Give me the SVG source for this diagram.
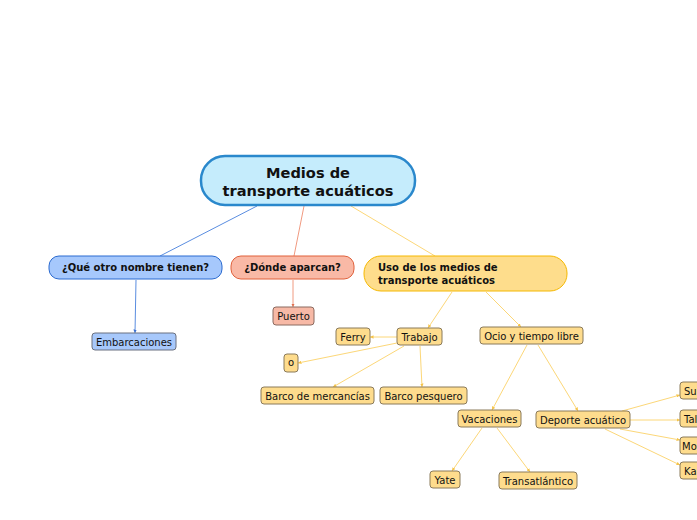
<svg xmlns="http://www.w3.org/2000/svg" width="697" height="520" viewBox="0 0 697 520">
<defs>
<style>
text{font-family:"DejaVu Sans","Noto Sans",sans-serif;fill:#111;}
.t{font-size:10px;text-anchor:middle;}
.s{font-size:10px;text-anchor:start;}
.b{font-size:10px;font-weight:bold;}
.c{text-anchor:middle;}
.r{font-size:14.6px;font-weight:bold;text-anchor:middle;}
.y rect{fill:#fedc8d;stroke:#8a7a5a;stroke-width:1;}
.bl{fill:#a7c8fb;stroke:#6a7080;stroke-width:1;}
.sa{fill:#f7b9a6;stroke:#8a6a60;stroke-width:1;}
#connectors line{stroke-width:1;fill:none;}
.cy{stroke:#fcd778;}
.cb{stroke:#5a8de0;}
.cs{stroke:#f09a80;}
</style>
<marker id="ay" viewBox="0 0 6 6" refX="6" refY="3" markerWidth="3.5" markerHeight="3.5" orient="auto"><path d="M0,0L6,3L0,6z" fill="#f5c44a"/></marker>
<marker id="ab" viewBox="0 0 6 6" refX="6" refY="3" markerWidth="3.5" markerHeight="3.5" orient="auto"><path d="M0,0L6,3L0,6z" fill="#3a70d0"/></marker>
<marker id="as" viewBox="0 0 6 6" refX="6" refY="3" markerWidth="3.5" markerHeight="3.5" orient="auto"><path d="M0,0L6,3L0,6z" fill="#e07050"/></marker>
</defs>
<rect width="697" height="520" fill="#fff"/>
<g id="connectors">
<line class="cb" x1="257" y1="206" x2="160" y2="256"/>
<line class="cs" x1="304" y1="206" x2="294" y2="256"/>
<line class="cy" x1="351" y1="206" x2="435" y2="256"/>
<line class="cb" x1="136" y1="280" x2="135" y2="333" marker-end="url(#ab)"/>
<line class="cs" x1="293" y1="280" x2="293" y2="307" marker-end="url(#as)"/>
<line class="cy" x1="452" y1="292" x2="428" y2="328" marker-end="url(#ay)"/>
<line class="cy" x1="486" y1="292" x2="521" y2="327" marker-end="url(#ay)"/>
<line class="cy" x1="397" y1="337" x2="370" y2="337" marker-end="url(#ay)"/>
<line class="cy" x1="397" y1="343" x2="298" y2="363" marker-end="url(#ay)"/>
<line class="cy" x1="404" y1="346" x2="333" y2="387" marker-end="url(#ay)"/>
<line class="cy" x1="420" y1="346" x2="422" y2="387" marker-end="url(#ay)"/>
<line class="cy" x1="527" y1="345" x2="492" y2="410" marker-end="url(#ay)"/>
<line class="cy" x1="538" y1="345" x2="578" y2="411" marker-end="url(#ay)"/>
<line class="cy" x1="482" y1="428" x2="452" y2="471" marker-end="url(#ay)"/>
<line class="cy" x1="497" y1="428" x2="530" y2="472" marker-end="url(#ay)"/>
<line class="cy" x1="622" y1="411" x2="680" y2="395" marker-end="url(#ay)"/>
<line class="cy" x1="630" y1="420" x2="680" y2="420" marker-end="url(#ay)"/>
<line class="cy" x1="620" y1="429" x2="680" y2="440" marker-end="url(#ay)"/>
<line class="cy" x1="605" y1="429" x2="680" y2="465" marker-end="url(#ay)"/>
</g>
<g id="root">
<rect x="201" y="156" width="214" height="49" rx="24" fill="#c5ecfc" stroke="#2a88cc" stroke-width="2.5"/>
<text class="r" x="308" y="178">Medios de</text>
<text class="r" x="308" y="196">transporte acuáticos</text>
</g>
<g id="n-que">
<rect x="49" y="256" width="173" height="23" rx="10" fill="#a6c8fc" stroke="#2a6ad0" stroke-width="1"/>
<text class="b c" x="135.5" y="271">¿Qué otro nombre tienen?</text>
</g>
<g id="n-donde">
<rect x="231" y="256" width="123" height="23" rx="10" fill="#f9b9a6" stroke="#e0603a" stroke-width="1"/>
<text class="b c" x="292.5" y="271">¿Dónde aparcan?</text>
</g>
<g id="n-uso">
<rect x="364" y="256" width="203" height="35" rx="17" fill="#fedd8c" stroke="#f5b800" stroke-width="1"/>
<text class="b" x="378" y="271">Uso de los medios de</text>
<text class="b" x="378" y="284">transporte acuáticos</text>
</g>
<g id="n-embarcaciones">
<rect class="bl" x="92" y="333" width="84" height="17" rx="3"/>
<text class="t" x="134" y="345.5">Embarcaciones</text>
</g>
<g id="n-puerto">
<rect class="sa" x="273" y="307" width="41" height="18" rx="3"/>
<text class="t" x="293.5" y="320">Puerto</text>
</g>
<g id="n-ferry" class="y">
<rect x="336" y="328" width="34" height="17" rx="3"/>
<text class="t" x="353" y="340.5">Ferry</text>
</g>
<g id="n-trabajo" class="y">
<rect x="397" y="328" width="45" height="17" rx="3"/>
<text class="t" x="419.5" y="340.5">Trabajo</text>
</g>
<g id="n-ocio" class="y">
<rect x="480" y="327" width="103" height="17" rx="3"/>
<text class="t" x="531.5" y="339.5">Ocio y tiempo libre</text>
</g>
<g id="n-o" class="y">
<rect x="284" y="354" width="14" height="18" rx="3"/>
<text class="t" x="291" y="365.5">o</text>
</g>
<g id="n-mercancias" class="y">
<rect x="261" y="387" width="113" height="17" rx="3"/>
<text class="t" x="317.5" y="399.5">Barco de mercancías</text>
</g>
<g id="n-pesquero" class="y">
<rect x="380" y="387" width="87" height="17" rx="3"/>
<text class="t" x="423.5" y="399.5">Barco pesquero</text>
</g>
<g id="n-vacaciones" class="y">
<rect x="458" y="410" width="63" height="17" rx="3"/>
<text class="t" x="489.5" y="422.5">Vacaciones</text>
</g>
<g id="n-deporte" class="y">
<rect x="536" y="411" width="94" height="17" rx="3"/>
<text class="t" x="583" y="423.5">Deporte acuático</text>
</g>
<g id="n-su" class="y">
<rect x="680" y="382" width="30" height="17" rx="3"/>
<text class="s" x="684" y="394.5">Su</text>
</g>
<g id="n-ta" class="y">
<rect x="680" y="410" width="30" height="17" rx="3"/>
<text class="s" x="684" y="422.5">Tal</text>
</g>
<g id="n-mo" class="y">
<rect x="680" y="437" width="30" height="17" rx="3"/>
<text class="s" x="682" y="449.5">Mo</text>
</g>
<g id="n-ka" class="y">
<rect x="680" y="462" width="30" height="17" rx="3"/>
<text class="s" x="684" y="474.5">Ka</text>
</g>
<g id="n-yate" class="y">
<rect x="430" y="471" width="30" height="17" rx="3"/>
<text class="t" x="445" y="483.5">Yate</text>
</g>
<g id="n-transatlantico" class="y">
<rect x="499" y="472" width="78" height="17" rx="3"/>
<text class="t" x="538" y="484.5">Transatlántico</text>
</g>
</svg>
